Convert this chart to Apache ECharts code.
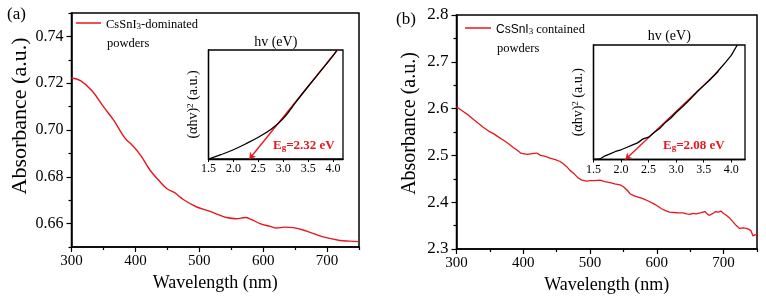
<!DOCTYPE html>
<html><head><meta charset="utf-8">
<script src="https://cdn.jsdelivr.net/npm/echarts@6/dist/echarts.min.js"></script>
<style>html,body{margin:0;padding:0;background:#fff}#c{width:766px;height:299px}</style>
</head><body><div id="c"></div>
<script>
// ---------- data ----------
const wavelengthA = [300, 314, 332, 350, 366, 384, 395, 408, 423, 439, 449, 462, 475, 496, 517, 530, 543, 558, 572, 582, 595, 611, 621, 634, 647, 668, 694, 720, 735, 750];
const absorbanceA = [0.7222, 0.7211, 0.7168, 0.7100, 0.7042, 0.6964, 0.6935, 0.6893, 0.6828, 0.6778, 0.6750, 0.6731, 0.6703, 0.6671, 0.6652, 0.6638, 0.6626, 0.6621, 0.6626, 0.6617, 0.6600, 0.6588, 0.6581, 0.6585, 0.6583, 0.6568, 0.6543, 0.6528, 0.6525, 0.6523];

const wavelengthB = [300, 310, 318, 326, 333, 340, 348, 356, 363, 370, 378, 385, 391, 396, 400, 406, 413, 420, 426, 433, 440, 448, 455, 460, 465, 470, 476, 482, 488, 495, 501, 507, 515, 522, 530, 537, 545, 550, 556, 560, 565, 572, 580, 588, 595, 601, 607, 613, 619, 626, 632, 639, 645, 649, 654, 659, 665, 672, 676, 679, 684, 688, 692, 696, 700, 704, 709, 714, 719, 724, 729, 734, 738, 741, 744, 747, 750];
const absorbanceB = [2.604, 2.594, 2.586, 2.576, 2.568, 2.560, 2.552, 2.546, 2.539, 2.533, 2.525, 2.517, 2.511, 2.505, 2.504, 2.502, 2.504, 2.505, 2.500, 2.498, 2.494, 2.491, 2.487, 2.482, 2.476, 2.468, 2.461, 2.452, 2.447, 2.445, 2.446, 2.446, 2.447, 2.444, 2.442, 2.439, 2.437, 2.433, 2.425, 2.418, 2.414, 2.411, 2.407, 2.402, 2.397, 2.392, 2.386, 2.382, 2.379, 2.378, 2.377, 2.377, 2.375, 2.374, 2.376, 2.375, 2.377, 2.380, 2.374, 2.372, 2.376, 2.380, 2.379, 2.381, 2.376, 2.372, 2.366, 2.358, 2.350, 2.344, 2.345, 2.344, 2.342, 2.339, 2.328, 2.330, 2.331];

const insetHvA = [1.5, 1.75, 2.0, 2.25, 2.5, 2.75, 3.0, 3.25, 3.5, 3.75, 4.0, 4.08];
const insetTaucA = [0, 0.04, 0.085, 0.14, 0.20, 0.27, 0.37, 0.52, 0.665, 0.806, 0.948, 1.0];
const fitHvA = [4.09, 2.32];
const fitTaucA = [1.0, 0];

const insetHvB = [1.5, 1.62, 1.7, 1.8, 1.9, 2.0, 2.1, 2.2, 2.3, 2.4, 2.5, 2.6, 2.7, 2.8, 2.9, 3.0, 3.1, 3.2, 3.3, 3.4, 3.5, 3.6, 3.7, 3.8, 3.9, 4.0, 4.11];
const insetTaucB = [0, 0.005, 0.03, 0.05, 0.07, 0.085, 0.105, 0.125, 0.145, 0.18, 0.195, 0.235, 0.27, 0.32, 0.36, 0.41, 0.455, 0.5, 0.55, 0.6, 0.645, 0.69, 0.74, 0.795, 0.85, 0.91, 1.0];
const fitHvB = [3.77, 2.08];
const fitTaucB = [0.77, 0];

const xTicksMain = [300, 400, 500, 600, 700];
const xMinorMain = [350, 450, 550, 650, 750];
const yTicksA = [0.66, 0.68, 0.70, 0.72, 0.74];
const yMinorA = [0.65, 0.67, 0.69, 0.71, 0.73, 0.75];
const yTicksB = [2.3, 2.4, 2.5, 2.6, 2.7, 2.8];
const yMinorB = [2.35, 2.45, 2.55, 2.65, 2.75];
const xTicksInset = [1.5, 2.0, 2.5, 3.0, 3.5, 4.0];

const seriesNameA = 'CsSnI3-dominated powders';
const seriesNameB = 'CsSnI3 contained powders';

// ---------- helpers ----------
const zip = (a, b) => a.map((v, i) => [v, b[i]]);
const SERIF = "'Liberation Serif','Times New Roman',serif";
const SANS = "'Liberation Sans',Arial,sans-serif";
const RED = '#e8161c';
const fmtA = v => v.toFixed(2);
const fmt1 = v => v.toFixed(1);

function mainX(grid, name) {
  return [{
    gridIndex: grid, type: 'value', min: 300, max: 750, position: 'bottom',
    axisLine: {lineStyle: {color: '#000', width: 1.5}},
    axisTick: {customValues: xTicksMain, length: 5, lineStyle: {color: '#000', width: 1.2}},
    axisLabel: {customValues: xTicksMain, color: '#000', fontFamily: SERIF, fontSize: 15, margin: 7},
    splitLine: {show: false},
    name: name, nameLocation: 'middle', nameGap: 25,
    nameTextStyle: {color: '#000', fontFamily: SERIF, fontSize: 18}
  }, {
    gridIndex: grid, type: 'value', min: 300, max: 750, position: 'bottom',
    axisLine: {show: false},
    axisTick: {customValues: xMinorMain, length: 3, lineStyle: {color: '#000', width: 1.2}},
    axisLabel: {show: false}, splitLine: {show: false}
  }];
}
function mainY(grid, min, max, ticks, minor, fmt, fs, gap, pad, nfs) {
  return [{
    gridIndex: grid, type: 'value', min: min, max: max, position: 'left',
    axisLine: {show: true, lineStyle: {color: '#000', width: 1.5}},
    axisTick: {show: true, customValues: ticks, length: 5, lineStyle: {color: '#000', width: 1.2}},
    axisLabel: {customValues: ticks, formatter: fmt, color: '#000', fontFamily: SERIF, fontSize: fs, margin: 8},
    splitLine: {show: false},
    name: 'Absorbance (a.u.)', nameLocation: 'middle', nameGap: gap,
    nameTextStyle: {color: '#000', fontFamily: SERIF, fontSize: nfs, padding: [0, 0, 0, pad]}
  }, {
    gridIndex: grid, type: 'value', min: min, max: max, position: 'left',
    axisLine: {show: false},
    axisTick: {show: true, customValues: minor, length: 3, lineStyle: {color: '#000', width: 1.2}},
    axisLabel: {show: false}, splitLine: {show: false}
  }];
}
function insetX(grid, max, gap) {
  return [{
    gridIndex: grid, type: 'value', min: 1.5, max: max, position: 'bottom',
    axisLine: {lineStyle: {color: '#000', width: 1.3}},
    axisTick: {customValues: xTicksInset, length: 3, lineStyle: {color: '#000'}},
    axisLabel: {customValues: xTicksInset, formatter: fmt1, color: '#000', fontFamily: SERIF, fontSize: 12, margin: 4},
    splitLine: {show: false}
  }, {
    gridIndex: grid, type: 'value', min: 1.5, max: max, position: 'top',
    axisLine: {show: false}, axisTick: {show: false}, axisLabel: {show: false}, splitLine: {show: false},
    name: 'hv (eV)', nameLocation: 'middle', nameGap: gap,
    nameTextStyle: {color: '#000', fontFamily: SERIF, fontSize: 14}
  }];
}
function insetY(grid) {
  return {
    gridIndex: grid, type: 'value', min: 0, max: 1,
    axisLine: {show: true, lineStyle: {color: '#000', width: 1.3}},
    axisTick: {show: false}, axisLabel: {show: false}, splitLine: {show: false},
    name: '{t|(αhv)}{s|2}{t| (a.u.)}', nameLocation: 'middle', nameGap: 6,
    nameTextStyle: {color: '#000', fontFamily: SERIF, fontSize: 14,
      rich: {t: {fontFamily: SERIF, fontSize: 14, color: '#000', verticalAlign: 'top', lineHeight: 16},
             s: {fontFamily: SERIF, fontSize: 9, color: '#000', verticalAlign: 'top', lineHeight: 9}}}
  };
}

const gridBox = {show: true, borderColor: '#000', borderWidth: 1.5, backgroundColor: '#fff'};

const legendRich = {
  t: {fontFamily: SERIF, fontSize: 12.5, color: '#000', verticalAlign: 'bottom', lineHeight: 16},
  ts: {fontFamily: SANS, fontSize: 12, color: '#000', verticalAlign: 'bottom', lineHeight: 16},
  s: {fontFamily: SERIF, fontSize: 9, color: '#000', verticalAlign: 'bottom', lineHeight: 9}
};
const egRich = {
  t: {font: "bold 13px " + SERIF, fill: RED, verticalAlign: 'bottom', lineHeight: 16},
  s: {font: "bold 9px " + SERIF, fill: RED, verticalAlign: 'bottom', lineHeight: 7}
};

const option = {
  animation: false,
  backgroundColor: '#fff',
  grid: [
    Object.assign({left: 71.5, top: 13, width: 287.5, height: 234}, gridBox),
    Object.assign({left: 208.5, top: 50, width: 134.5, height: 109}, gridBox, {borderWidth: 1.3}),
    Object.assign({left: 456.5, top: 15, width: 300.5, height: 234}, gridBox),
    Object.assign({left: 593.5, top: 45, width: 151.5, height: 114.5}, gridBox, {borderWidth: 1.3})
  ],
  xAxis: [
    ...mainX(0, 'Wavelength (nm)'),
    ...insetX(1, 4.2, 1),
    ...mainX(2, 'Wavelength (nm)'),
    ...insetX(3, 4.25, 2)
  ],
  yAxis: [
    ...mainY(0, 0.65, 0.75, yTicksA, yMinorA, fmtA, 16, 38, 28, 22),
    insetY(1),
    ...mainY(2, 2.3, 2.8, yTicksB, yMinorB, fmt1, 17, 37, 17, 20),
    insetY(3)
  ],
  legend: [{
    data: [seriesNameA], left: 76, top: 18, padding: 0, icon: 'rect', itemWidth: 25, itemHeight: 1.5, itemGap: 0,
    formatter: () => '{t|CsSnI}{s|3}{t|-dominated}',
    textStyle: {rich: legendRich}
  }, {
    data: [seriesNameB], left: 465, top: 23, padding: 0, icon: 'rect', itemWidth: 26, itemHeight: 1.5, itemGap: 0,
    formatter: () => '{ts|CsSnI}{s|3}{t| contained}',
    textStyle: {rich: legendRich}
  }],
  graphic: [
    {type: 'text', left: 7, top: 6, style: {text: '(a)', font: "17px " + SERIF, fill: '#000'}},
    {type: 'text', left: 396, top: 11, style: {text: '(b)', font: "17px " + SERIF, fill: '#000'}},
    {type: 'text', left: 107, top: 37, style: {text: 'powders', font: "12.5px " + SERIF, fill: '#000'}},
    {type: 'text', left: 497, top: 42, style: {text: 'powders', font: "12.5px " + SERIF, fill: '#000'}},
    {type: 'text', left: 273, top: 139, style: {text: '{t|E}{s|g}{t|=2.32 eV}', rich: egRich}},
    {type: 'text', left: 663, top: 139, style: {text: '{t|E}{s|g}{t|=2.08 eV}', rich: egRich}}
  ],
  series: [
    {name: seriesNameA, type: 'line', xAxisIndex: 0, yAxisIndex: 0, data: zip(wavelengthA, absorbanceA),
     smooth: 0.4, symbol: 'none', lineStyle: {color: RED, width: 1.4}, itemStyle: {color: RED}},
    {name: seriesNameB, type: 'line', xAxisIndex: 4, yAxisIndex: 3, data: zip(wavelengthB, absorbanceB),
     symbol: 'none', lineStyle: {color: RED, width: 1.3}, itemStyle: {color: RED}},
    {name: 'tauc-a', type: 'line', xAxisIndex: 2, yAxisIndex: 2, data: zip(insetHvA, insetTaucA),
     smooth: 0.4, symbol: 'none', lineStyle: {color: '#000', width: 1.3}, clip: true},
    {name: 'fit-a', type: 'lines', coordinateSystem: 'cartesian2d', xAxisIndex: 2, yAxisIndex: 2,
     data: [{coords: zip(fitHvA, fitTaucA)}], symbol: ['none', 'arrow'], symbolSize: 6,
     lineStyle: {color: RED, width: 1.3, opacity: 1}, z: 3},
    {name: 'tauc-b', type: 'line', xAxisIndex: 6, yAxisIndex: 5, data: zip(insetHvB, insetTaucB),
     symbol: 'none', lineStyle: {color: '#000', width: 1.3}, clip: true},
    {name: 'fit-b', type: 'lines', coordinateSystem: 'cartesian2d', xAxisIndex: 6, yAxisIndex: 5,
     data: [{coords: zip(fitHvB, fitTaucB)}], symbol: ['none', 'arrow'], symbolSize: 6,
     lineStyle: {color: RED, width: 1.3, opacity: 1}, z: 3}
  ]
};
const chart = echarts.init(document.getElementById('c'), null, {renderer: 'canvas'});
chart.setOption(option);
</script>
</body></html>
